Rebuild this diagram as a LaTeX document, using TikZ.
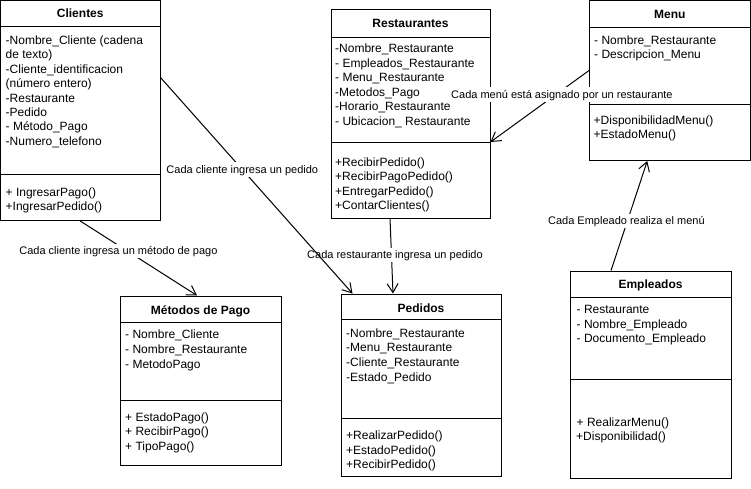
\documentclass[tikz,border=0pt]{standalone}
\usepackage{fontspec}
\setmainfont{Liberation Sans}
\usetikzlibrary{arrows.meta}

\tikzset{
  classbox/.style={draw=black, line width=1pt, fill=white, inner sep=0pt, rectangle},
  divider/.style={draw=black, line width=1pt},
  classtitle/.style={inner sep=0pt, text height=8.6pt, text depth=0pt,
    font=\bfseries\fontsize{12pt}{14pt}\selectfont},
  member/.style={anchor=west, inner sep=0pt, text height=8pt, text depth=0pt,
    font=\fontsize{12pt}{14pt}\selectfont},
  assoc/.style={draw=black, line width=1pt, -{Straight Barb[length=9pt,width=11pt]}},
  assoclabel/.style={fill=white, inner sep=1pt, text height=10pt, text depth=2.5pt,
    font=\fontsize{11pt}{13pt}\selectfont},
}

% #1 name prefix, #2 left x, #3 first line centre y, #4 line step, #5 lines
\newcommand\memberlist[5]{%
  \foreach \txt [count=\k] in {#5} {
    \node[member] (#1\k) at (#2, {#3+#4*(\k-1)}) {\txt};
  }}

\begin{document}
\begin{tikzpicture}[x=1pt, y=-1pt]
\fill[white] (0,0) rectangle (751,488);
\useasboundingbox (0,0) rectangle (751,488);

% ---------- Clientes ----------
\node[classbox, minimum width=159.5pt, minimum height=220pt] (cli) at (80.25,110.5) {};
\draw[divider] (0.5,26) -- (160,26);
\draw[divider] (0.5,174) -- (160,174);
\node[classtitle] (clititle) at (80.25,13) {Clientes};
\memberlist{cliA}{5.5}{40.5}{14.4}{-Nombre\_Cliente (cadena, de texto), -Cliente\_identificacion, (número entero), -Restaurante, -Pedido, - Método\_Pago, -Numero\_telefono}
\memberlist{cliM}{5.5}{192.5}{14.4}{+ IngresarPago(), +IngresarPedido()}

% ---------- Restaurantes ----------
\node[classbox, minimum width=159pt, minimum height=208.5pt] (res) at (410.5,113.75) {};
\draw[divider] (331,37) -- (490,37);
\draw[divider] (331,142) -- (490,142);
\node[classtitle] (restitle) at (410.5,23.3) {Restaurantes};
\memberlist{resA}{335}{48.5}{14.6}{-Nombre\_Restaurante, - Empleados\_Restaurante, - Menu\_Restaurante, -Metodos\_Pago, -Horario\_Restaurante, - Ubicacion\_ Restaurante}
\memberlist{resM}{335}{162}{14.6}{+RecibirPedido(), +RecibirPagoPedido(), +EntregarPedido(), +ContarClientes()}

% ---------- Menu ----------
\node[classbox, minimum width=160.5pt, minimum height=160pt] (menu) at (669.75,80.5) {};
\draw[divider] (589.5,27) -- (750,27);
\draw[divider] (589.5,104) -- (750,104);
\node[classtitle] (menutitle) at (669.75,14.3) {Menu};
\memberlist{menuA}{594}{40}{14.2}{- Nombre\_Restaurante, - Descripcion\_Menu}
\memberlist{menuM}{593.5}{120.5}{14.2}{+DisponibilidadMenu(), +EstadoMenu()}

% ---------- Métodos de Pago ----------
\node[classbox, minimum width=161pt, minimum height=169pt] (pago) at (200.5,380.5) {};
\draw[divider] (120,322) -- (281,322);
\draw[divider] (120,400) -- (281,400);
\node[classtitle] (pagotitle) at (200.5,310.5) {Métodos de Pago};
\memberlist{pagoA}{125}{334.5}{15.2}{- Nombre\_Cliente, - Nombre\_Restaurante, - MetodoPago}
\memberlist{pagoM}{125}{417.3}{14.4}{+ EstadoPago(), + RecibirPago(), + TipoPago()}

% ---------- Pedidos ----------
\node[classbox, minimum width=160pt, minimum height=182pt] (ped) at (421,385) {};
\draw[divider] (341,319) -- (501,319);
\draw[divider] (341,418) -- (501,418);
\node[classtitle] (pedtitle) at (421,308.3) {Pedidos};
\memberlist{pedA}{346}{333.3}{14.6}{-Nombre\_Restaurante, -Menu\_Restaurante, -Cliente\_Restaurante, -Estado\_Pedido}
\memberlist{pedM}{346}{435.7}{14.3}{+RealizarPedido(), +EstadoPedido(), +RecibirPedido()}

% ---------- Empleados ----------
\node[classbox, minimum width=161pt, minimum height=207pt] (emp) at (650.5,374.5) {};
\draw[divider] (570,297) -- (731,297);
\draw[divider] (570,379) -- (731,379);
\node[classtitle] (emptitle) at (650.5,284) {Empleados};
\memberlist{empA}{576.5}{309.5}{14.5}{- Restaurante, - Nombre\_Empleado, - Documento\_Empleado}
\node[member] (empM1) at (576.5,422) {+ RealizarMenu()};
\node[member] (empM2) at (576,436) {+Disponibilidad()};

% ---------- Associations ----------
\draw[assoc] ([xshift=-20.5pt]res.south) -- ([xshift=-28pt]ped.north)
  node[assoclabel, pos=0.487, xshift=3.5pt] (lres) {Cada restaurante ingresa un pedido};
\draw[assoc] ([yshift=-77.5pt]cli.north east) -- ([xshift=12pt]ped.north west)
  node[assoclabel, pos=0.426] (lcli) {Cada cliente ingresa un pedido};
\draw[assoc] (cli.south) -- ([xshift=77.5pt]pago.north west)
  node[assoclabel, pos=0.404, xshift=-9pt] (lpago) {Cada cliente ingresa un método de pago};
\draw[assoc] ([yshift=-70.5pt]menu.north west) -- ([yshift=-133pt]res.north east)
  node[assoclabel, pos=0.336, xshift=6pt] (lmenu) {Cada menú está asignado por un restaurante};
\draw[assoc] ([xshift=-39.5pt]emp.north) -- ([xshift=-22.5pt]menu.south)
  node[assoclabel, pos=0.452, xshift=-1pt] (lemp) {Cada Empleado realiza el menú};
\end{tikzpicture}
\end{document}
